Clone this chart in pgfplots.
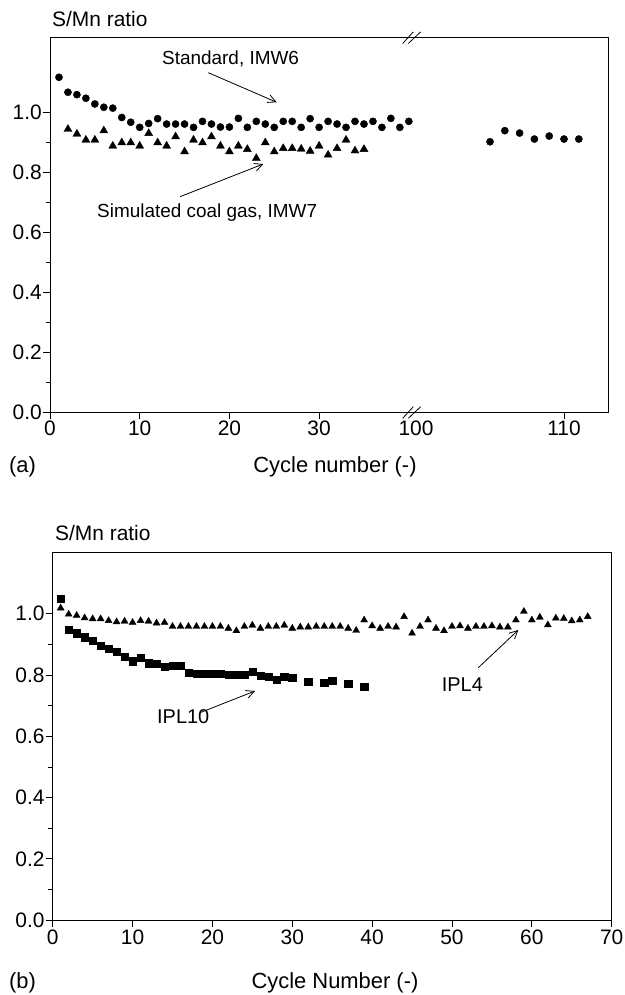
\documentclass[border=0pt]{standalone}
\usepackage{fontspec}
\setmainfont{Liberation Sans}
\usepackage{pgfplots}
\pgfplotsset{compat=1.18}
\usetikzlibrary{arrows.meta}
\begin{document}
\begin{tikzpicture}[x=1bp,y=1bp]
\path[use as bounding box] (0,0) rectangle (625,995);
\pgfplotsset{
  common/.style={
    scale only axis,
    anchor=south west,
    clip=false,
    axis line style={line width=0.9bp},
    tick align=outside,
    tick pos=left,
    major tick length=7bp,
    minor tick length=4.5bp,
    tick style={line width=0.8bp,black},
    ymin=0,
    ytick={0,0.2,0.4,0.6,0.8,1.0},
    yticklabels={0.0,0.2,0.4,0.6,0.8,1.0},
    minor ytick={0.1,0.3,0.5,0.7,0.9},
    tick label style={font=\fontsize{21}{25}\selectfont},
    yticklabel style={inner sep=1bp},
    xticklabel style={inner sep=2bp},
  }
}
% ---------------- panel (a) ----------------
\begin{axis}[common,
  at={(50bp,583bp)}, width=558.7bp, height=374.3bp,
  x coord trafo/.code={\pgfmathparse{#1>70 ? 1.65*#1-124.2 : #1}},
  x coord inv trafo/.code={\pgfmathparse{#1>40.6 ? (#1+124.2)/1.65 : #1}},
  xmin=0, xmax=113.02, ymax=1.248,
  xtick={0,10,20,30,110},
  xticklabels={0,10,20,30,110},
  extra x ticks={100}, extra x tick labels={100},
  extra x tick style={major tick style={draw=none}},
]
\addplot[only marks, mark=*, mark size=3.6bp, black] coordinates {
(1,1.116)(2,1.066)(3,1.058)(4,1.046)(5,1.027)(6,1.016)(7,1.013)(8,0.982)(9,0.966)(10,0.949)
(11,0.962)(12,0.978)(13,0.960)(14,0.960)(15,0.960)(16,0.949)(17,0.969)(18,0.960)(19,0.950)(20,0.950)
(21,0.979)(22,0.949)(23,0.969)(24,0.960)(25,0.949)(26,0.969)(27,0.969)(28,0.949)(29,0.978)(30,0.949)
(31,0.969)(32,0.960)(33,0.949)(34,0.969)(35,0.960)(36,0.969)(37,0.949)(38,0.979)(39,0.949)(40,0.969)
(105,0.901)(106,0.938)(107,0.930)(108,0.910)(109,0.920)(110,0.910)(111,0.910)
};
\addplot[only marks, mark=triangle*, mark size=4.6bp, black] coordinates {
(2,0.943)(3,0.927)(4,0.907)(5,0.907)(6,0.938)(7,0.887)(8,0.898)(9,0.898)(10,0.887)
(11,0.929)(12,0.898)(13,0.887)(14,0.918)(15,0.868)(16,0.907)(17,0.898)(18,0.918)(19,0.887)(20,0.868)
(21,0.887)(22,0.876)(23,0.846)(24,0.898)(25,0.868)(26,0.879)(27,0.879)(28,0.877)(29,0.870)(30,0.887)
(31,0.857)(32,0.879)(33,0.907)(34,0.871)(35,0.876)
};
\end{axis}
% break marks (a)
\draw[line width=0.8bp] (402.7,576.7) -- (413.3,588.3) (408.3,576.7) -- (420.7,588.3);
\draw[line width=0.8bp] (402.7,951.5) -- (413.3,963.1) (408.3,951.5) -- (420.7,963.1);
% labels (a)
\node[anchor=base west, inner sep=0pt, font=\fontsize{21}{25}\selectfont] at (52,968) {S/Mn ratio};
\node[anchor=base, inner sep=0pt, font=\fontsize{22}{26}\selectfont] at (335,522) {Cycle number (-)};
\node[anchor=base west, inner sep=0pt, font=\fontsize{22}{26}\selectfont] at (9,522) {(a)};
\node[anchor=base west, inner sep=0pt, font=\fontsize{19}{23}\selectfont] at (162,930) {Standard, IMW6};
\node[anchor=base west, inner sep=0pt, font=\fontsize{19}{23}\selectfont] at (97,777) {Simulated coal gas, IMW7};
\draw[line width=0.8bp, -{Straight Barb[length=8bp,width=8bp]}] (208.3,922.3) -- (276.7,892.7);
\draw[line width=0.8bp, -{Straight Barb[length=8bp,width=8bp]}] (180,798.3) -- (263.3,831);
% ---------------- panel (b) ----------------
\begin{axis}[common,
  at={(52.7bp,74.8bp)}, width=559bp, height=367.9bp,
  xmin=0, xmax=70, ymax=1.2,
  xtick={0,10,20,30,40,50,60,70},
  xticklabels={0,10,20,30,40,50,60,70},
]
\addplot[only marks, mark=square*, mark size=3.6bp, black] coordinates {
(1,1.049)(2,0.947)(3,0.936)(4,0.923)(5,0.912)(6,0.896)(7,0.886)(8,0.877)(9,0.860)(10,0.845)
(11,0.855)(12,0.838)(13,0.836)(14,0.827)(15,0.829)(16,0.830)(17,0.808)(18,0.805)(19,0.803)(20,0.805)
(21,0.803)(22,0.802)(23,0.801)(24,0.800)(25,0.811)(26,0.797)(27,0.795)(28,0.785)(29,0.795)(30,0.792)
(32,0.779)(34,0.774)(35,0.780)(37,0.771)(39,0.762)
};
\addplot[only marks, mark=triangle*, mark size=4bp, black] coordinates {
(1,1.018)(2,0.998)(3,0.994)(4,0.986)(5,0.983)(6,0.983)(7,0.977)(8,0.973)(9,0.975)(10,0.971)
(11,0.977)(12,0.975)(13,0.969)(14,0.971)(15,0.958)(16,0.958)(17,0.958)(18,0.958)(19,0.958)(20,0.958)
(21,0.958)(22,0.952)(23,0.944)(24,0.958)(25,0.962)(26,0.952)(27,0.958)(28,0.958)(29,0.962)(30,0.952)
(31,0.956)(32,0.956)(33,0.958)(34,0.958)(35,0.958)(36,0.958)(37,0.952)(38,0.945)(39,0.979)(40,0.960)
(41,0.952)(42,0.958)(43,0.956)(44,0.990)(45,0.936)(46,0.958)(47,0.979)(48,0.952)(49,0.944)(50,0.958)
(51,0.960)(52,0.952)(53,0.958)(54,0.958)(55,0.960)(56,0.956)(57,0.956)(58,0.979)(59,1.007)(60,0.979)
(61,0.988)(62,0.963)(63,0.985)(64,0.984)(65,0.976)(66,0.979)(67,0.990)
};
\end{axis}
% labels (b)
\node[anchor=base west, inner sep=0pt, font=\fontsize{21}{25}\selectfont] at (55,454.3) {S/Mn ratio};
\node[anchor=base, inner sep=0pt, font=\fontsize{22}{26}\selectfont] at (335,6) {Cycle Number (-)};
\node[anchor=base west, inner sep=0pt, font=\fontsize{22}{26}\selectfont] at (9,6) {(b)};
\node[anchor=base west, inner sep=0pt, font=\fontsize{20}{24}\selectfont] at (157,271) {IPL10};
\node[anchor=base west, inner sep=0pt, font=\fontsize{20}{24}\selectfont] at (441.7,303.3) {IPL4};
\draw[line width=0.8bp, -{Straight Barb[length=8bp,width=8bp]}] (200,282.3) -- (255,304);
\draw[line width=0.8bp, -{Straight Barb[length=8bp,width=8bp]}] (478.3,327.3) -- (518.3,365);
\end{tikzpicture}
\end{document}
